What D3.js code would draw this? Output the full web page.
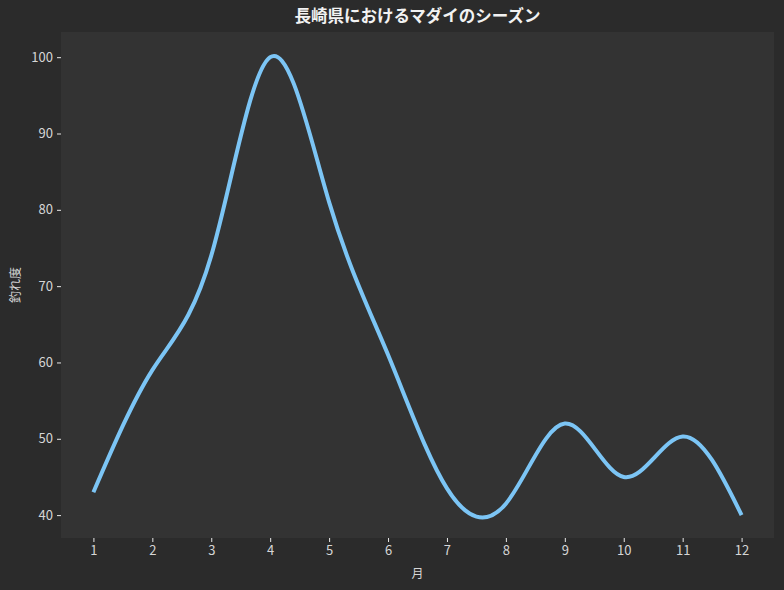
<!DOCTYPE html>
<html>
<head>
<meta charset="utf-8">
<script src="https://cdn.jsdelivr.net/npm/d3@7"></script>
<style>
  body { margin: 0; background: #2b2b2b; }
  text { font-family: "Noto Sans CJK JP", "Noto Sans", sans-serif; }
</style>
</head>
<body>
<div id="chart"></div>
<script>
// data
const months = [1, 2, 3, 4, 5, 6, 7, 8, 9, 10, 11, 12];
const catchScore = [43, 59, 74, 100, 81, 61, 43.5, 41.5, 52, 45, 50.3, 40];
const yTicks = [40, 50, 60, 70, 80, 90, 100];

const title = "長崎県におけるマダイのシーズン";
const xLabel = "月";
const yLabel = "釣れ度";

const margin = {top: 32, right: 10, bottom: 52, left: 61},
    width = 784 - margin.left - margin.right,
    height = 590 - margin.top - margin.bottom;

const svg = d3.select('#chart')
    .append('svg')
    .attr('width', width + margin.left + margin.right)
    .attr('height', height + margin.top + margin.bottom);

svg.append('rect')
    .attr('width', width + margin.left + margin.right)
    .attr('height', height + margin.top + margin.bottom)
    .attr('fill', '#2b2b2b');

const group = svg.append('g')
    .attr('transform', `translate(${margin.left},${margin.top})`);

group.append('rect')
    .attr('width', width)
    .attr('height', height)
    .attr('fill', '#333333');

const xScale = d3.scaleLinear()
    .domain([0.45, 12.55])
    .range([0, width]);

const yScale = d3.scaleLinear()
    .domain([37, 103.3])
    .range([height, 0]);

const xAxis = d3.axisBottom(xScale)
    .tickValues(months)
    .tickFormat(d3.format('d'))
    .tickSize(4)
    .tickPadding(4);

const yAxis = d3.axisLeft(yScale)
    .tickValues(yTicks)
    .tickSize(4)
    .tickPadding(4);

const xG = group.append('g')
    .attr('transform', `translate(0,${height})`)
    .call(xAxis);

const yG = group.append('g')
    .call(yAxis);

[xG, yG].forEach(g => {
    g.select('.domain').remove();
    g.selectAll('line').attr('stroke', '#e8e8e8');
    g.selectAll('text')
        .attr('fill', '#d6d6d6')
        .style('font-size', '13px');
});

const line = d3.line()
    .x((d, i) => xScale(months[i]))
    .y(d => yScale(d))
    .curve(d3.curveNatural);

group.append('path')
    .datum(catchScore)
    .attr('fill', 'none')
    .attr('stroke', '#7cc5f5')
    .attr('stroke-width', 4)
    .attr('d', line);

svg.append('text')
    .attr('x', margin.left + width / 2)
    .attr('y', 22)
    .attr('text-anchor', 'middle')
    .attr('fill', '#f2f2f2')
    .style('font-size', '16.5px')
    .style('font-weight', 'bold')
    .text(title);

svg.append('text')
    .attr('x', margin.left + width / 2)
    .attr('y', 578)
    .attr('text-anchor', 'middle')
    .attr('fill', '#d6d6d6')
    .style('font-size', '12px')
    .text(xLabel);

svg.append('text')
    .attr('transform', `translate(20,${margin.top + height / 2}) rotate(-90)`)
    .attr('text-anchor', 'middle')
    .attr('fill', '#d6d6d6')
    .style('font-size', '12px')
    .text(yLabel);
</script>
</body>
</html>
